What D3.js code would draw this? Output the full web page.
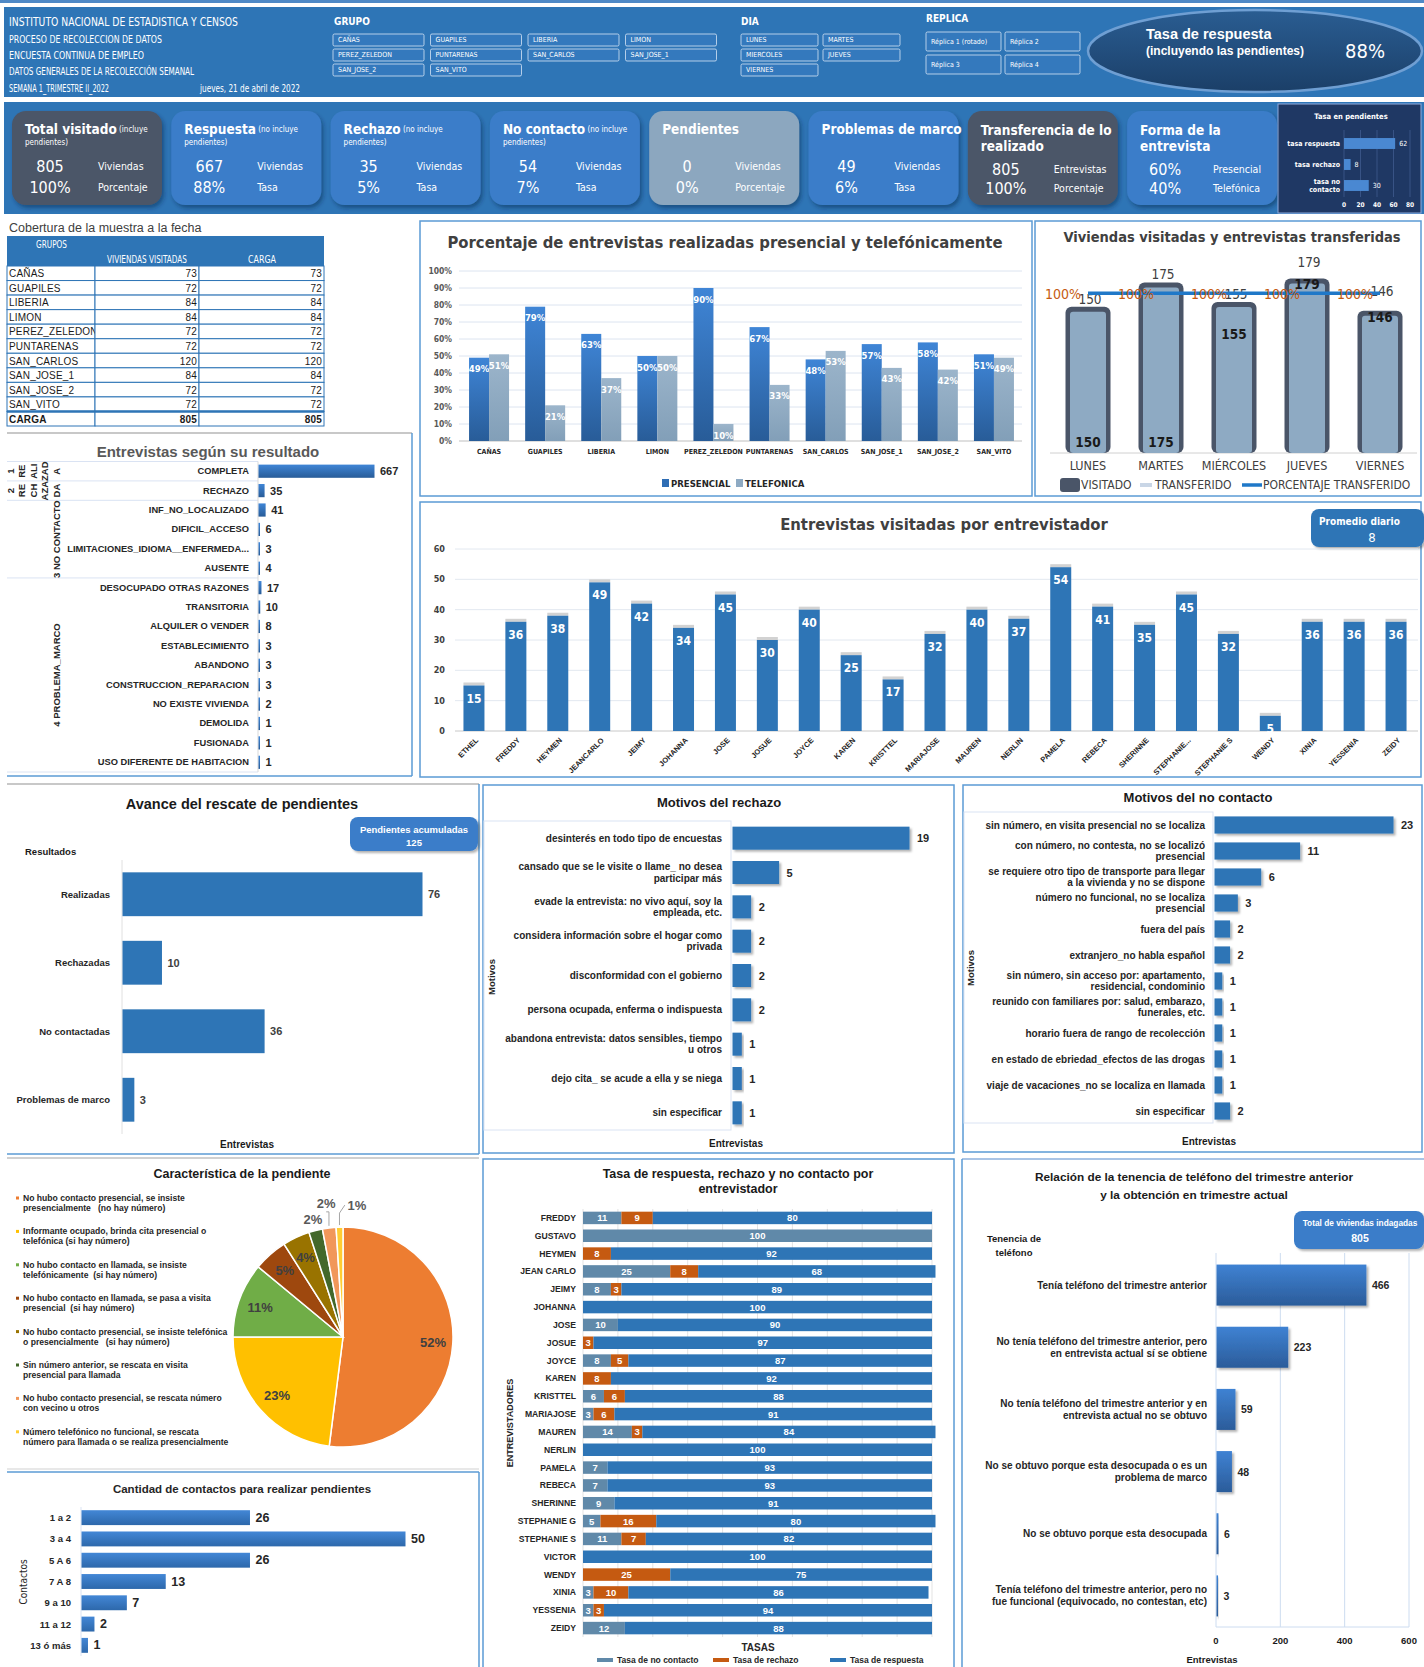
<!DOCTYPE html>
<html>
<head>
<meta charset="utf-8">
<script src="https://cdn.jsdelivr.net/npm/d3@7"></script>
<style>
body { margin: 0; background: #fff; }
svg { display: block; }
</style>
</head>
<body>
<svg id="dash" width="1424" height="1667"></svg>
<script>
// ---------------- datos ----------------
const encabezado = ["INSTITUTO NACIONAL DE ESTADISTICA Y CENSOS", "PROCESO DE RECOLECCION DE DATOS",
    "ENCUESTA CONTINUA DE EMPLEO", "DATOS GENERALES DE LA RECOLECCIÓN SEMANAL", "SEMANA 1_TRIMESTRE II_2022"];
const fechaReporte = "jueves, 21 de abril de 2022";

const grupos = ["CAÑAS", "GUAPILES", "LIBERIA", "LIMON", "PEREZ_ZELEDON", "PUNTARENAS", "SAN_CARLOS", "SAN_JOSE_1", "SAN_JOSE_2", "SAN_VITO"];
const gruposVisitadas = [73, 72, 84, 84, 72, 72, 120, 84, 72, 72];
const gruposCarga = [73, 72, 84, 84, 72, 72, 120, 84, 72, 72];
const gruposPresencial = [0.49, 0.79, 0.63, 0.50, 0.90, 0.67, 0.48, 0.57, 0.58, 0.51];
const gruposTelefonica = [0.51, 0.21, 0.37, 0.50, 0.10, 0.33, 0.53, 0.43, 0.42, 0.49];

const diasBotones = ["LUNES", "MARTES", "MIERCOLES", "JUEVES", "VIERNES"];
const replicas = ["Réplica 1 (rotado)", "Réplica 2", "Réplica 3", "Réplica 4"];

const tasaGeneral = "88%";

const kpiTitulo = ["Total visitado", "Respuesta", "Rechazo", "No contacto", "Pendientes", "Problemas de marco", "Transferencia de lo", "Forma de la"];
const kpiTitulo2 = ["", "", "", "", "", "", "realizado", "entrevista"];
const kpiNota = ["(incluye", "(no incluye", "(no incluye", "(no incluye", "", "", "", ""];
const kpiNota2 = ["pendientes)", "pendientes)", "pendientes)", "pendientes)", "", "", "", ""];
const kpiValorA = ["805", "667", "35", "54", "0", "49", "805", "60%"];
const kpiEtiquetaA = ["Viviendas", "Viviendas", "Viviendas", "Viviendas", "Viviendas", "Viviendas", "Entrevistas", "Presencial"];
const kpiValorB = ["100%", "88%", "5%", "7%", "0%", "6%", "100%", "40%"];
const kpiEtiquetaB = ["Porcentaje", "Tasa", "Tasa", "Tasa", "Porcentaje", "Tasa", "Porcentaje", "Telefónica"];

const tasaPendCategorias = ["tasa respuesta", "tasa rechazo", "tasa no\ncontacto"];
const tasaPendValores = [62, 8, 30];

const dias = ["LUNES", "MARTES", "MIÉRCOLES", "JUEVES", "VIERNES"];
const diasVisitado = [150, 175, 155, 179, 146];
const diasTransferido = [150, 175, 155, 179, 146];
const diasPorcentaje = [1, 1, 1, 1, 1];

const entrevistadores = ["ETHEL", "FREDDY", "HEYMEN", "JEANCARLO", "JEIMY", "JOHANNA", "JOSE", "JOSUE", "JOYCE", "KAREN", "KRISTTEL", "MARIAJOSE",
    "MAUREN", "NERLIN", "PAMELA", "REBECA", "SHERINNE", "STEPHANIE...", "STEPHANIE S", "WENDY", "XINIA", "YESSENIA", "ZEIDY"];
const entrevistasVisitadas = [15, 36, 38, 49, 42, 34, 45, 30, 40, 25, 17, 32, 40, 37, 54, 41, 35, 45, 32, 5, 36, 36, 36];
const promedioDiario = 8;

const resultadoCategorias = ["COMPLETA", "RECHAZO", "INF_NO_LOCALIZADO", "DIFICIL_ACCESO", "LIMITACIONES_IDIOMA__ENFERMEDA...", "AUSENTE",
    "DESOCUPADO OTRAS RAZONES", "TRANSITORIA", "ALQUILER O VENDER", "ESTABLECIMIENTO", "ABANDONO", "CONSTRUCCION_REPARACION",
    "NO EXISTE VIVIENDA", "DEMOLIDA", "FUSIONADA", "USO DIFERENTE DE HABITACION"];
const resultadoValores = [667, 35, 41, 6, 3, 4, 17, 10, 8, 3, 3, 3, 2, 1, 1, 1];
const resultadoGrupoInicio = [0, 1, 2, 6, 16];
const resultadoGrupoPartes = [["1", "RE", "ALI", "ZAD", "A"], ["2", "RE", "CH", "AZA", "DA"], ["3 NO CONTACTO"], ["4 PROBLEMA_MARCO"]];

const avanceCategorias = ["Realizadas", "Rechazadas", "No contactadas", "Problemas de marco"];
const avanceValores = [76, 10, 36, 3];
const pendientesAcumuladas = 125;

const rechazoMotivos = ["desinterés en todo tipo de encuestas", "cansado que se le visite o llame_ no desea\nparticipar más",
    "evade la entrevista: no vivo aquí, soy la\nempleada, etc.", "considera información sobre el hogar como\nprivada",
    "disconformidad con el gobierno", "persona ocupada, enferma o indispuesta",
    "abandona entrevista: datos sensibles, tiempo\nu otros", "dejo cita_ se acude a ella y se niega", "sin especificar"];
const rechazoValores = [19, 5, 2, 2, 2, 2, 1, 1, 1];

const noContactoMotivos = ["sin número, en visita presencial no se localiza", "con número, no contesta, no se localizó\npresencial",
    "se requiere otro tipo de transporte para llegar\na la vivienda y no se dispone", "número no funcional, no se localiza\npresencial",
    "fuera del país", "extranjero_no habla español", "sin número, sin acceso por: apartamento,\nresidencial, condominio",
    "reunido con familiares por: salud, embarazo,\nfunerales, etc.", "horario fuera de rango de recolección",
    "en estado de ebriedad_efectos de las drogas", "viaje de vacaciones_no se localiza en llamada", "sin especificar"];
const noContactoValores = [23, 11, 6, 3, 2, 2, 1, 1, 1, 1, 1, 2];

const pendienteCaracteristicas = ["No hubo contacto presencial, se insiste\npresencialmente   (no hay número)",
    "Informante ocupado, brinda cita presencial o\ntelefónica (si hay número)",
    "No hubo contacto en llamada, se insiste\ntelefónicamente  (si hay número)",
    "No hubo contacto en llamada, se pasa a visita\npresencial  (si hay número)",
    "No hubo contacto presencial, se insiste telefónica\no presencialmente   (si hay número)",
    "Sin número anterior, se rescata en visita\npresencial para llamada",
    "No hubo contacto presencial, se rescata número\ncon vecino u otros",
    "Número telefónico no funcional, se rescata\nnúmero para llamada o se realiza presencialmente"];
const pendientePorcentajes = [52, 23, 11, 5, 4, 2, 2, 1];

const contactosRangos = ["1 a 2", "3 a 4", "5 A 6", "7 A 8", "9 a 10", "11 a 12", "13 ó más"];
const contactosValores = [26, 50, 26, 13, 7, 2, 1];

const tasaNombres = ["FREDDY", "GUSTAVO", "HEYMEN", "JEAN CARLO", "JEIMY", "JOHANNA", "JOSE", "JOSUE", "JOYCE", "KAREN", "KRISTTEL", "MARIAJOSE",
    "MAUREN", "NERLIN", "PAMELA", "REBECA", "SHERINNE", "STEPHANIE G", "STEPHANIE S", "VICTOR", "WENDY", "XINIA", "YESSENIA", "ZEIDY"];
const tasaNoContacto = [11, 100, 0, 25, 8, 0, 10, 0, 8, 0, 6, 3, 14, 0, 7, 7, 9, 5, 11, 0, 0, 3, 3, 12];
const tasaRechazo = [9, 0, 8, 8, 3, 0, 0, 3, 5, 8, 6, 6, 3, 0, 0, 0, 0, 16, 7, 0, 25, 10, 3, 0];
const tasaRespuesta = [80, 0, 92, 68, 89, 100, 90, 97, 87, 92, 88, 91, 84, 100, 93, 93, 91, 80, 82, 100, 75, 86, 94, 88];
const tasaLeyenda = ["Tasa de no contacto", "Tasa de rechazo", "Tasa de respuesta"];

const telefonoCategorias = ["Tenía teléfono del trimestre anterior", "No tenía teléfono del trimestre anterior, pero\nen entrevista actual sí se obtiene",
    "No tenía teléfono del trimestre anterior y en\nentrevista actual no se obtuvo", "No se obtuvo porque esta desocupada o es un\nproblema de marco",
    "No se obtuvo porque esta desocupada", "Tenía teléfono del trimestre anterior, pero no\nfue funcional (equivocado, no contestan, etc)"];
const telefonoValores = [466, 223, 59, 48, 6, 3];
const telefonoTicks = [0, 200, 400, 600];
const totalIndagadas = 805;

// ---------------- estilos ----------------
const AZUL = "#2e75b6";
const NARROW = "'Liberation Sans Narrow','DejaVu Sans Condensed',sans-serif";
const SANS = "'Liberation Sans',Arial,sans-serif";
const BORDE = "#5b9bd5";

const svg = d3.select("#dash");
const defs = svg.append("defs");

function gradV(id, c1, c2) {
    let g = defs.append("linearGradient").attr("id", id)
        .attr("x1", 0).attr("y1", 0).attr("x2", 0).attr("y2", 1);
    g.append("stop").attr("offset", "0%").attr("stop-color", c1);
    g.append("stop").attr("offset", "100%").attr("stop-color", c2);
}
gradV("gPres", "#3f85d6", "#285c98");
gradV("gTel", "#9cb5cb", "#829fb8");
gradV("gRel", "#3f82d3", "#2b5c9a");
gradV("gCont", "#4387d6", "#2d68ab");
gradV("gElipse", "#2a5d92", "#1b3f68");

let fs = defs.append("filter").attr("id", "sombra").attr("x", "-10%").attr("y", "-30%").attr("width", "130%").attr("height", "170%");
fs.append("feDropShadow").attr("dx", 2).attr("dy", 2).attr("stdDeviation", 1.2)
    .attr("flood-color", "#000").attr("flood-opacity", 0.3);
let fc = defs.append("filter").attr("id", "sombraCard").attr("x", "-10%").attr("y", "-10%").attr("width", "125%").attr("height", "125%");
fc.append("feDropShadow").attr("dx", 2).attr("dy", 3).attr("stdDeviation", 2)
    .attr("flood-color", "#0b2545").attr("flood-opacity", 0.45);

function texto(g, x, y, s, size, o) {
    o = o || {};
    return g.append("text")
        .attr("x", x).attr("y", y)
        .attr("font-family", o.familia || SANS)
        .attr("font-size", size)
        .attr("font-weight", o.peso || "normal")
        .attr("fill", o.color || "#262626")
        .attr("text-anchor", o.ancla || "start")
        .attr("dominant-baseline", "central")
        .text(s);
}

function multilinea(g, x, y, s, size, lh, o) {
    o = o || {};
    let lineas = String(s).split("\n");
    let t = g.append("text")
        .attr("font-family", o.familia || SANS)
        .attr("font-size", size)
        .attr("font-weight", o.peso || "normal")
        .attr("fill", o.color || "#262626")
        .attr("text-anchor", o.ancla || "start");
    lineas.forEach(function (l, i) {
        t.append("tspan").attr("x", x)
            .attr("y", y + (i - (lineas.length - 1) / 2) * lh)
            .attr("dominant-baseline", "central")
            .text(l);
    });
    return t;
}

function rotado(g, x, y, s, size, o) {
    o = o || {};
    return g.append("text")
        .attr("transform", "translate(" + x + "," + y + ") rotate(-90)")
        .attr("font-family", o.familia || SANS)
        .attr("font-size", size)
        .attr("font-weight", o.peso || "bold")
        .attr("fill", o.color || "#262626")
        .attr("text-anchor", "middle")
        .attr("dominant-baseline", "central")
        .text(s);
}

function linea(g, x1, y1, x2, y2, color, w) {
    return g.append("line").attr("x1", x1).attr("y1", y1).attr("x2", x2).attr("y2", y2)
        .attr("stroke", color).attr("stroke-width", w || 1);
}

// horizontal bars, used by several panels
function barrasH(g, cats, vals, c) {
    let x = d3.scaleLinear().domain([0, c.max]).range([c.x0, c.x1]);
    let y = d3.scaleBand().domain(cats).range([c.y0, c.y1]).paddingInner(c.pad).paddingOuter(c.pad / 2);
    if (c.eje) linea(g, c.x0, c.y0, c.x0, c.y1, c.eje, 1);
    g.selectAll(null).data(cats).enter().append("rect")
        .attr("x", c.x0 + 0.5)
        .attr("y", d => y(d))
        .attr("width", (d, i) => Math.max(1.5, x(vals[i]) - c.x0))
        .attr("height", y.bandwidth())
        .attr("fill", c.fill)
        .attr("filter", c.filtro || null);
    cats.forEach(function (d, i) {
        let cy = y(d) + y.bandwidth() / 2;
        texto(g, Math.max(x(vals[i]), c.x0 + 1.5) + c.gap, cy, vals[i], c.valSize, {peso: "bold", color: c.valColor || "#262626"});
        multilinea(g, c.labelX, cy, d, c.labelSize, c.lh || c.labelSize * 1.2, {peso: "bold", ancla: "end", color: "#262626"});
    });
    return {x: x, y: y};
}

// ---------------- encabezado ----------------
svg.append("rect").attr("x", 0).attr("y", 0).attr("width", 1424).attr("height", 3).attr("fill", "#4f89c6");
svg.append("rect").attr("x", 4).attr("y", 7).attr("width", 1420).attr("height", 90).attr("fill", AZUL);

let encY = [22, 39, 55, 71, 88];
let encW = [229, 153, 135, 185, 100];
let encS = [12, 10.5, 10.5, 10.5, 10];
encabezado.forEach(function (s, i) {
    texto(svg, 9, encY[i], s, encS[i], {familia: NARROW, color: "#fff"})
        .attr("textLength", encW[i]).attr("lengthAdjust", "spacingAndGlyphs");
});
texto(svg, 200, 88, fechaReporte, 10, {familia: NARROW, color: "#fff"})
    .attr("textLength", 100).attr("lengthAdjust", "spacingAndGlyphs");

function boton(x, y, w, h, s) {
    svg.append("rect").attr("x", x).attr("y", y).attr("width", w).attr("height", h)
        .attr("fill", "#3479bd").attr("stroke", "#d6e5f5").attr("stroke-width", 0.8).attr("rx", 1.5);
    texto(svg, x + 5, y + h / 2, s, 7, {familia: NARROW, color: "#fff"});
}

texto(svg, 334, 21, "GRUPO", 10, {familia: NARROW, peso: "bold", color: "#fff"});
grupos.forEach(function (g, i) {
    boton(333 + (i % 4) * 97.5, 34 + Math.floor(i / 4) * 15, 91, 12, g);
});
texto(svg, 741, 21, "DIA", 10, {familia: NARROW, peso: "bold", color: "#fff"});
diasBotones.forEach(function (d, i) {
    boton(741 + (i % 2) * 82, 34 + Math.floor(i / 2) * 15, 77, 12, d);
});
texto(svg, 926, 18, "REPLICA", 10, {familia: NARROW, peso: "bold", color: "#fff"});
replicas.forEach(function (r, i) {
    boton(926 + (i % 2) * 79, 32 + Math.floor(i / 2) * 23, 75, 19, r);
});

svg.append("ellipse").attr("cx", 1255).attr("cy", 51).attr("rx", 167).attr("ry", 41)
    .attr("fill", "url(#gElipse)").attr("stroke", "#6f9fd3").attr("stroke-width", 2.5);
texto(svg, 1146, 34, "Tasa de respuesta", 14.5, {peso: "bold", color: "#fff"});
texto(svg, 1146, 51, "(incluyendo las pendientes)", 12, {peso: "bold", color: "#fff"});
texto(svg, 1345, 51, tasaGeneral, 20, {familia: NARROW, color: "#fff"});

// ---------------- tarjetas KPI ----------------
svg.append("rect").attr("x", 4).attr("y", 102).attr("width", 1420).attr("height", 112).attr("fill", AZUL);

let kpiColor = ["#4b5668", "#3b7dc9", "#3b7dc9", "#3b7dc9", "#8ca7bf", "#3b7dc9", "#4b5668", "#3b7dc9"];
kpiTitulo.forEach(function (t, i) {
    let x0 = 12 + i * 159.3;
    svg.append("rect").attr("x", x0).attr("y", 111).attr("width", 150).attr("height", 94).attr("rx", 14)
        .attr("fill", kpiColor[i]).attr("filter", "url(#sombraCard)");
    let yA = 166, yB = 187;
    if (kpiTitulo2[i]) {
        texto(svg, x0 + 13, 130, t, 13.5, {familia: NARROW, peso: "bold", color: "#fff"});
        texto(svg, x0 + 13, 146, kpiTitulo2[i], 13.5, {familia: NARROW, peso: "bold", color: "#fff"});
        yA = 169; yB = 188;
    } else {
        let tt = texto(svg, x0 + 13, 129, t, 13.5, {familia: NARROW, peso: "bold", color: "#fff"});
        if (kpiNota[i]) {
            tt.append("tspan").attr("font-size", 8).attr("font-weight", "normal").text(" " + kpiNota[i]);
            texto(svg, x0 + 13, 142, kpiNota2[i], 8, {familia: NARROW, color: "#fff"});
        }
    }
    texto(svg, x0 + 38, yA, kpiValorA[i], 16, {familia: NARROW, color: "#fff", ancla: "middle"});
    texto(svg, x0 + 86, yA, kpiEtiquetaA[i], 10.5, {familia: NARROW, color: "#fff"});
    texto(svg, x0 + 38, yB, kpiValorB[i], 16, {familia: NARROW, color: "#fff", ancla: "middle"});
    texto(svg, x0 + 86, yB, kpiEtiquetaB[i], 10.5, {familia: NARROW, color: "#fff"});
});

// mini grafico tasa en pendientes
let gMini = svg.append("g");
gMini.append("rect").attr("x", 1278).attr("y", 104).attr("width", 143).attr("height", 109)
    .attr("fill", "#1f3864").attr("stroke", "#8faadc").attr("stroke-width", 1);
texto(gMini, 1351, 116, "Tasa en pendientes", 7.5, {familia: NARROW, peso: "bold", color: "#fff", ancla: "middle"});
let mX = d3.scaleLinear().domain([0, 80]).range([1344, 1410]);
let mY = d3.scaleBand().domain(tasaPendCategorias).range([133, 196]).paddingInner(0.48).paddingOuter(0.24);
mX.ticks(4).forEach(function (t) {
    linea(gMini, mX(t), 130, mX(t), 197, "#3f5b8e", 0.8);
    texto(gMini, mX(t), 205, t, 6.5, {familia: NARROW, peso: "bold", color: "#fff", ancla: "middle"});
});
tasaPendCategorias.forEach(function (c, i) {
    let cy = mY(c) + mY.bandwidth() / 2;
    gMini.append("rect").attr("x", mX(0)).attr("y", mY(c)).attr("width", mX(tasaPendValores[i]) - mX(0))
        .attr("height", mY.bandwidth()).attr("fill", "#4a88d2");
    texto(gMini, mX(tasaPendValores[i]) + 4, cy, tasaPendValores[i], 7, {familia: NARROW, color: "#fff"});
    multilinea(gMini, 1340, cy, c, 7, 8, {familia: NARROW, peso: "bold", color: "#fff", ancla: "end"});
});

// ---------------- cobertura de la muestra ----------------
let gTab = svg.append("g");
texto(gTab, 9, 228, "Cobertura de la muestra a la fecha", 12.5, {color: "#404040"});
gTab.append("rect").attr("x", 7).attr("y", 236).attr("width", 317).attr("height", 30).attr("fill", AZUL);
texto(gTab, 36, 244, "GRUPOS", 10, {familia: NARROW, color: "#fff"}).attr("textLength", 31).attr("lengthAdjust", "spacingAndGlyphs");
texto(gTab, 107, 259, "VIVIENDAS VISITADAS", 10, {familia: NARROW, color: "#fff"}).attr("textLength", 80).attr("lengthAdjust", "spacingAndGlyphs");
texto(gTab, 248, 259, "CARGA", 10, {familia: NARROW, color: "#fff"}).attr("textLength", 28).attr("lengthAdjust", "spacingAndGlyphs");

let filas = grupos.map((g, i) => [g, gruposVisitadas[i], gruposCarga[i]]);
filas.push(["CARGA", d3.sum(gruposVisitadas), d3.sum(gruposCarga)]);
let colX = [7, 95, 199, 324];
let filaY = d3.scaleBand().domain(d3.range(filas.length)).range([266, 426]);
filas.forEach(function (f, r) {
    let y = filaY(r), h = filaY.bandwidth();
    let ultima = r === filas.length - 1;
    f.forEach(function (v, c) {
        gTab.append("rect").attr("x", colX[c]).attr("y", y).attr("width", colX[c + 1] - colX[c]).attr("height", h)
            .attr("fill", "#fff").attr("stroke", AZUL).attr("stroke-width", 1);
        let o = {peso: ultima ? "bold" : "normal", color: "#1a1a1a", ancla: c === 0 ? "start" : "end"};
        texto(gTab, c === 0 ? colX[0] + 2 : colX[c + 1] - 2, y + h / 2 + 0.5, v, 10, o).attr("letter-spacing", 0.2);
    });
});
linea(gTab, 7, filaY(filas.length - 1), 324, filaY(filas.length - 1), AZUL, 2.5);

// ---------------- entrevistas segun su resultado ----------------
let gRes = svg.append("g");
linea(gRes, 7, 433, 412, 433, "#c8c8c8", 2);
linea(gRes, 412, 433, 412, 776, BORDE, 1.5);
linea(gRes, 7, 776, 412, 776, BORDE, 1.5);
texto(gRes, 208, 451, "Entrevistas según su resultado", 15, {peso: "bold", color: "#595959", ancla: "middle"});
let resY0 = 461.5, resY1 = 772;
let resPaso = (resY1 - resY0) / resultadoCategorias.length;
resultadoGrupoInicio.forEach(function (k) {
    linea(gRes, 7, resY0 + k * resPaso, 258, resY0 + k * resPaso, "#dae3f3", 1);
});
resultadoGrupoPartes.forEach(function (partes, gi) {
    let a = resultadoGrupoInicio[gi], b = resultadoGrupoInicio[gi + 1];
    let cy = resY0 + resPaso * (a + b) / 2;
    if (partes.length === 1) {
        rotado(gRes, 56, cy, partes[0], 9.5);
    } else {
        partes.forEach(function (p, j) {
            rotado(gRes, 10 + j * 11.5, cy, p, 9.5);
        });
    }
});
barrasH(gRes, resultadoCategorias, resultadoValores, {
    max: 667, x0: 258, x1: 374, y0: resY0, y1: resY1, pad: 0.32,
    labelX: 249, labelSize: 9.3, valSize: 11, gap: 6, fill: "url(#gPres)", eje: "#d9d9d9"
});

// ---------------- porcentaje presencial / telefonica ----------------
let gPor = svg.append("g");
gPor.append("rect").attr("x", 420).attr("y", 221).attr("width", 612).attr("height", 275)
    .attr("fill", "#fff").attr("stroke", BORDE).attr("stroke-width", 1.5);
texto(gPor, 725, 242, "Porcentaje de entrevistas realizadas presencial y telefónicamente", 16.5,
    {familia: NARROW, peso: "bold", color: "#404040", ancla: "middle"});
let pX = d3.scaleBand().domain(grupos).range([461, 1022]);
let pY = d3.scaleLinear().domain([0, 1]).range([441, 271]);
pY.ticks(10).forEach(function (t) {
    linea(gPor, 459, pY(t), 1022, pY(t), t === 0 ? "#bfbfbf" : "#dce4f0", 1);
    texto(gPor, 452, pY(t), d3.format(".0%")(t), 8.5, {familia: NARROW, peso: "bold", color: "#595959", ancla: "end"});
});
grupos.forEach(function (g, i) {
    let c = pX(g) + pX.bandwidth() / 2;
    let vals = [gruposPresencial[i], gruposTelefonica[i]];
    vals.forEach(function (v, j) {
        let x = c - 20 + j * 20;
        gPor.append("rect").attr("x", x).attr("y", pY(v)).attr("width", 20).attr("height", pY(0) - pY(v))
            .attr("fill", j === 0 ? "url(#gPres)" : "url(#gTel)");
        texto(gPor, x + 10, pY(v) + 11, d3.format(".0%")(v), 9.5, {familia: NARROW, peso: "bold", color: "#fff", ancla: "middle"});
    });
    texto(gPor, c, 452, g, 7, {familia: NARROW, peso: "bold", color: "#262626", ancla: "middle"});
});
gPor.append("rect").attr("x", 662).attr("y", 479).attr("width", 7).attr("height", 8).attr("fill", "#2e6db4");
texto(gPor, 671, 483, "PRESENCIAL", 9.5, {familia: NARROW, peso: "bold", color: "#262626"});
gPor.append("rect").attr("x", 736).attr("y", 479).attr("width", 7).attr("height", 8).attr("fill", "#8eaac3");
texto(gPor, 745, 483, "TELEFONICA", 9.5, {familia: NARROW, peso: "bold", color: "#262626"});

// ---------------- viviendas visitadas y transferidas ----------------
let gViv = svg.append("g");
gViv.append("rect").attr("x", 1035).attr("y", 221).attr("width", 386).attr("height", 275)
    .attr("fill", "#fff").attr("stroke", BORDE).attr("stroke-width", 1.5);
texto(gViv, 1232, 237, "Viviendas visitadas y entrevistas transferidas", 14.5,
    {familia: NARROW, peso: "bold", color: "#404040", ancla: "middle"});
let vX = d3.scaleBand().domain(dias).range([1051.5, 1416.5]);
let vY = d3.scaleLinear().domain([0, 200]).range([453, 258]);
let vY2 = d3.scaleLinear().domain([0, 1.22]).range([453, 258]);
linea(gViv, 1050, 453, 1417, 453, "#d0d0d0", 1);
let transPos = ["base", "base", "mid", "top", "top"];
let visLabelDy = [8, 8, 8, 16, 20];
dias.forEach(function (d, i) {
    let c = vX(d) + vX.bandwidth() / 2;
    gViv.append("rect").attr("x", c - 22.5).attr("y", vY(diasVisitado[i])).attr("width", 45)
        .attr("height", vY(0) - vY(diasVisitado[i])).attr("rx", 6).attr("fill", "#4a5568");
    gViv.append("rect").attr("x", c - 18).attr("y", vY(diasTransferido[i]) + 5).attr("width", 36)
        .attr("height", vY(0) - vY(diasTransferido[i]) - 5).attr("rx", 3).attr("fill", "#8eaac3");
    texto(gViv, c + 2, vY(diasVisitado[i]) - visLabelDy[i], diasVisitado[i], 13.5, {familia: NARROW, color: "#404040", ancla: "middle"});
    let ty = transPos[i] === "base" ? vY(0) - 11 : (transPos[i] === "mid" ? vY(diasTransferido[i]) + 32 : vY(diasTransferido[i]) + 6);
    texto(gViv, c, ty, diasTransferido[i], 13.5, {familia: NARROW, peso: "bold", color: "#1a1a1a", ancla: "middle"});
    texto(gViv, c, 465, d, 12.5, {familia: NARROW, color: "#404040", ancla: "middle"});
});
let lineaPct = d3.line().x((d, i) => vX(dias[i]) + vX.bandwidth() / 2).y(d => vY2(d));
gViv.append("path").datum(diasPorcentaje).attr("d", lineaPct).attr("fill", "none")
    .attr("stroke", "#1f78c8").attr("stroke-width", 3.5);
diasPorcentaje.forEach(function (p, i) {
    let c = vX(dias[i]) + vX.bandwidth() / 2;
    texto(gViv, c - 7, vY2(p) + 1, d3.format(".0%")(p), 14, {familia: NARROW, color: "#c55a11", ancla: "end"});
});
gViv.append("rect").attr("x", 1060).attr("y", 478).attr("width", 20).attr("height", 14).attr("rx", 3).attr("fill", "#4a5568");
texto(gViv, 1081, 485, "VISITADO", 12, {familia: NARROW, color: "#404040"});
linea(gViv, 1140, 485, 1152, 485, "#c9d6e6", 4);
texto(gViv, 1155, 485, "TRANSFERIDO", 12, {familia: NARROW, color: "#404040"});
linea(gViv, 1242, 485, 1262, 485, "#1f78c8", 3.5);
texto(gViv, 1263, 485, "PORCENTAJE TRANSFERIDO", 12, {familia: NARROW, color: "#404040"});

// ---------------- entrevistas visitadas por entrevistador ----------------
let gEnt = svg.append("g");
gEnt.append("rect").attr("x", 420).attr("y", 502).attr("width", 1001).attr("height", 275)
    .attr("fill", "#fff").attr("stroke", BORDE).attr("stroke-width", 1.5);
texto(gEnt, 944, 524, "Entrevistas visitadas por entrevistador", 16.5,
    {familia: NARROW, peso: "bold", color: "#404040", ancla: "middle"});
gEnt.append("rect").attr("x", 1311).attr("y", 509).attr("width", 113).attr("height", 38).attr("rx", 8)
    .attr("fill", AZUL).attr("filter", "url(#sombra)");
texto(gEnt, 1319, 521, "Promedio diario", 10, {familia: NARROW, peso: "bold", color: "#fff"});
texto(gEnt, 1372, 537, promedioDiario, 13, {familia: NARROW, color: "#fff", ancla: "middle"});
let eX = d3.scaleBand().domain(entrevistadores).range([453, 1417]);
let eY = d3.scaleLinear().domain([0, 60]).range([731, 549]);
eY.ticks(6).forEach(function (t) {
    linea(gEnt, 455, eY(t), 1418, eY(t), t === 0 ? "#c8c8c8" : "#e2e8f0", 1);
    texto(gEnt, 445, eY(t), t, 9, {familia: NARROW, peso: "bold", color: "#404040", ancla: "end"});
});
entrevistadores.forEach(function (n, i) {
    let c = eX(n) + eX.bandwidth() / 2;
    let v = entrevistasVisitadas[i];
    gEnt.append("rect").attr("x", c - 10.5).attr("y", eY(v) - 3).attr("width", 21).attr("height", 3).attr("fill", "#d2d2d2");
    gEnt.append("rect").attr("x", c - 10.5).attr("y", eY(v)).attr("width", 21).attr("height", eY(0) - eY(v)).attr("fill", AZUL);
    texto(gEnt, c, eY(v) + 13, v, 12, {familia: NARROW, peso: "bold", color: "#fff", ancla: "middle"});
    gEnt.append("text").attr("transform", "translate(" + (c + 3) + ",739) rotate(-45)")
        .attr("font-family", SANS).attr("font-size", 7.5).attr("font-weight", "bold").attr("fill", "#262626")
        .attr("text-anchor", "end").attr("dominant-baseline", "central").text(n);
});

// ---------------- avance del rescate ----------------
let gAv = svg.append("g");
linea(gAv, 7, 784, 479, 784, "#c8c8c8", 2);
linea(gAv, 479, 784, 479, 1154, BORDE, 1.5);
linea(gAv, 7, 1154, 479, 1154, BORDE, 1.5);
texto(gAv, 242, 804, "Avance del rescate de pendientes", 14.5, {peso: "bold", color: "#1a1a1a", ancla: "middle"});
gAv.append("rect").attr("x", 350).attr("y", 817).attr("width", 128).attr("height", 34).attr("rx", 8)
    .attr("fill", "#3a7dc9").attr("filter", "url(#sombra)");
texto(gAv, 414, 829, "Pendientes acumuladas", 9.5, {peso: "bold", color: "#fff", ancla: "middle"});
texto(gAv, 414, 842, pendientesAcumuladas, 9.5, {peso: "bold", color: "#fff", ancla: "middle"});
texto(gAv, 25, 851, "Resultados", 9.5, {peso: "bold", color: "#1a1a1a"});
barrasH(gAv, avanceCategorias, avanceValores, {
    max: 76, x0: 122, x1: 422, y0: 860, y1: 1134, pad: 0.36,
    labelX: 110, labelSize: 9.5, valSize: 11, gap: 6, fill: AZUL, eje: "#e0e0e0", valColor: "#404040"
});
texto(gAv, 247, 1144, "Entrevistas", 10, {peso: "bold", color: "#1a1a1a", ancla: "middle"});

// ---------------- motivos del rechazo ----------------
let gRe = svg.append("g");
gRe.append("rect").attr("x", 483).attr("y", 785).attr("width", 471).attr("height", 368)
    .attr("fill", "#fff").attr("stroke", BORDE).attr("stroke-width", 1.5);
texto(gRe, 719, 802, "Motivos del rechazo", 13, {peso: "bold", color: "#1a1a1a", ancla: "middle"});
gRe.append("rect").attr("x", 484).attr("y", 821).attr("width", 247).attr("height", 309)
    .attr("fill", "none").attr("stroke", "#dae3f3");
barrasH(gRe, rechazoMotivos, rechazoValores, {
    max: 19, x0: 732, x1: 909, y0: 821, y1: 1130, pad: 0.33,
    labelX: 722, labelSize: 10, lh: 11.5, valSize: 11, gap: 8, fill: AZUL, filtro: "url(#sombra)"
});
rotado(gRe, 491, 977, "Motivos", 9.5);
texto(gRe, 736, 1143, "Entrevistas", 10, {peso: "bold", color: "#1a1a1a", ancla: "middle"});

// ---------------- motivos del no contacto ----------------
let gNc = svg.append("g");
gNc.append("rect").attr("x", 963).attr("y", 785).attr("width", 459).attr("height", 367)
    .attr("fill", "#fff").attr("stroke", BORDE).attr("stroke-width", 1.5);
texto(gNc, 1198, 797, "Motivos del no contacto", 13, {peso: "bold", color: "#1a1a1a", ancla: "middle"});
gNc.append("rect").attr("x", 964).attr("y", 812).attr("width", 249).attr("height", 311)
    .attr("fill", "none").attr("stroke", "#dae3f3");
barrasH(gNc, noContactoMotivos, noContactoValores, {
    max: 23, x0: 1214, x1: 1393, y0: 812, y1: 1124, pad: 0.34,
    labelX: 1205, labelSize: 10, lh: 11.5, valSize: 11, gap: 8, fill: AZUL, filtro: "url(#sombra)"
});
rotado(gNc, 970, 968, "Motivos", 9.5);
texto(gNc, 1209, 1141, "Entrevistas", 10, {peso: "bold", color: "#1a1a1a", ancla: "middle"});

// ---------------- caracteristica de la pendiente ----------------
let gPie = svg.append("g");
linea(gPie, 7, 1158, 479, 1158, "#d0d0d0", 2);
texto(gPie, 242, 1174, "Característica de la pendiente", 12.5, {peso: "bold", color: "#1a1a1a", ancla: "middle"});
let pieColores = ["#ed7d31", "#ffc000", "#70ad47", "#9e480e", "#997300", "#43682b", "#f1975a", "#ffcd33"];
pendienteCaracteristicas.forEach(function (s, i) {
    let cy = 1203 + i * 33.4;
    gPie.append("rect").attr("x", 16).attr("y", cy - 6.5).attr("width", 3).attr("height", 3).attr("fill", pieColores[i]);
    multilinea(gPie, 23, cy, s, 8.6, 10, {peso: "bold", color: "#262626"}).attr("xml:space", "preserve");
});
let pieCx = 343, pieCy = 1337, pieR = 110;
let arcos = d3.pie().sort(null).value(d => d)(pendientePorcentajes);
let arco = d3.arc().innerRadius(0).outerRadius(pieR);
gPie.selectAll(null).data(arcos).enter().append("path")
    .attr("transform", "translate(" + pieCx + "," + pieCy + ")")
    .attr("d", arco)
    .attr("fill", (d, i) => pieColores[i])
    .attr("stroke", "#fff").attr("stroke-width", 1.5);
let pieLabelR = [0.82, 0.8, 0.8, 0.8, 0.8, 1.1, 1.22, 1.2];
let pieLabelDx = [0, 0, 0, 0, 0, 0, 0, 18];
arcos.forEach(function (a, i) {
    let m = (a.startAngle + a.endAngle) / 2;
    let r = pieR * pieLabelR[i];
    let x = pieCx + r * Math.sin(m) + pieLabelDx[i];
    let y = pieCy - r * Math.cos(m);
    let fuera = pieLabelR[i] > 1;
    if (i >= 6) {
        let ex = pieCx + (pieR + 2) * Math.sin(m), ey = pieCy - (pieR + 2) * Math.cos(m);
        gPie.append("polyline").attr("points", [[ex, ey], [ex, y + 8], [x - (i === 7 ? 12 : 0), y + (i === 7 ? 0 : 8)]].join(" "))
            .attr("fill", "none").attr("stroke", "#a6a6a6").attr("stroke-width", 1);
    }
    texto(gPie, x, y, a.data + "%", 13, {peso: "bold", color: fuera ? "#595959" : "#404040", ancla: "middle"});
});

// ---------------- cantidad de contactos ----------------
let gCo = svg.append("g");
linea(gCo, 7, 1469, 479, 1469, "#e0e0e0", 1.5);
linea(gCo, 7, 1472, 479, 1472, BORDE, 1.5);
linea(gCo, 479, 1472, 479, 1667, BORDE, 1.5);
texto(gCo, 242, 1489, "Cantidad de contactos para realizar pendientes", 11.5, {peso: "bold", color: "#262626", ancla: "middle"});
barrasH(gCo, contactosRangos, contactosValores, {
    max: 50, x0: 81, x1: 405, y0: 1507, y1: 1656, pad: 0.3,
    labelX: 71, labelSize: 9.5, valSize: 12.5, gap: 6, fill: "url(#gCont)", eje: "#dae3f3"
});
rotado(gCo, 23, 1582, "Contactos", 10, {familia: NARROW, peso: "normal"});

// ---------------- tasa de respuesta por entrevistador ----------------
let gTa = svg.append("g");
gTa.append("rect").attr("x", 483).attr("y", 1159).attr("width", 471).attr("height", 530)
    .attr("fill", "#fff").attr("stroke", BORDE).attr("stroke-width", 1.5);
texto(gTa, 738, 1174, "Tasa de respuesta, rechazo y no contacto por", 12.5, {peso: "bold", color: "#1a1a1a", ancla: "middle"});
texto(gTa, 738, 1189, "entrevistador", 12.5, {peso: "bold", color: "#1a1a1a", ancla: "middle"});
let tX = d3.scaleLinear().domain([0, 100]).range([583, 932]);
let tY = d3.scaleBand().domain(tasaNombres).range([1209, 1637]).paddingInner(0.3).paddingOuter(0.15);
tX.ticks(10).forEach(function (t) {
    linea(gTa, tX(t), 1209, tX(t), 1637, "#e3e3e3", 1);
});
let tasaTabla = tasaNombres.map((n, i) => ({nombre: n, nocontacto: tasaNoContacto[i], rechazo: tasaRechazo[i], respuesta: tasaRespuesta[i]}));
let claves = ["nocontacto", "rechazo", "respuesta"];
let tColor = d3.scaleOrdinal().domain(claves).range(["#6089a9", "#c55a11", AZUL]);
let series = d3.stack().keys(claves)(tasaTabla);
series.forEach(function (s) {
    gTa.selectAll(null).data(s).enter().append("rect")
        .attr("x", d => tX(d[0]))
        .attr("y", d => tY(d.data.nombre))
        .attr("width", d => tX(d[1]) - tX(d[0]))
        .attr("height", tY.bandwidth())
        .attr("fill", tColor(s.key));
    s.forEach(function (d) {
        let v = d[1] - d[0];
        let cy = tY(d.data.nombre) + tY.bandwidth() / 2;
        if (v > 0) {
            texto(gTa, (tX(d[0]) + tX(d[1])) / 2, cy, v, 9.5, {peso: "bold", color: "#fff", ancla: "middle"});
        } else if (s.key !== "respuesta") {
            texto(gTa, tX(d[0]) + 3, cy, "-", 9, {peso: "bold", color: "#fff", ancla: "middle"});
        }
    });
});
tasaNombres.forEach(function (n) {
    texto(gTa, 576, tY(n) + tY.bandwidth() / 2, n, 8.6, {peso: "bold", color: "#262626", ancla: "end"});
});
rotado(gTa, 510, 1423, "ENTREVISTADORES", 9);
texto(gTa, 758, 1647, "TASAS", 10, {peso: "bold", color: "#262626", ancla: "middle"});
let legX = [597, 713, 830];
tasaLeyenda.forEach(function (s, i) {
    gTa.append("rect").attr("x", legX[i]).attr("y", 1658).attr("width", 16).attr("height", 4).attr("fill", tColor(claves[i]));
    texto(gTa, legX[i] + 20, 1660, s, 8.5, {peso: "bold", color: "#262626"});
});

// ---------------- tenencia de telefono ----------------
let gTe = svg.append("g");
linea(gTe, 962, 1159, 1424, 1159, "#a9c4e6", 2);
linea(gTe, 962, 1159, 962, 1667, BORDE, 1.5);
texto(gTe, 1194, 1177, "Relación de la tenencia de teléfono del trimestre anterior", 11.8, {peso: "bold", color: "#1a1a1a", ancla: "middle"});
texto(gTe, 1194, 1195, "y la obtención en trimestre actual", 11.8, {peso: "bold", color: "#1a1a1a", ancla: "middle"});
gTe.append("rect").attr("x", 1294).attr("y", 1211).attr("width", 130).attr("height", 38).attr("rx", 8)
    .attr("fill", "#3a7dc9").attr("filter", "url(#sombra)");
texto(gTe, 1360, 1223, "Total de viviendas indagadas", 8.3, {peso: "bold", color: "#fff", ancla: "middle"});
texto(gTe, 1360, 1238, totalIndagadas, 10.5, {peso: "bold", color: "#fff", ancla: "middle"});
texto(gTe, 1014, 1238, "Tenencia de", 9.5, {peso: "bold", color: "#1a1a1a", ancla: "middle"});
texto(gTe, 1014, 1252, "teléfono", 9.5, {peso: "bold", color: "#1a1a1a", ancla: "middle"});
let teX = d3.scaleLinear().domain([0, 600]).range([1216, 1409]);
telefonoTicks.forEach(function (t) {
    linea(gTe, teX(t), 1253, teX(t), 1627, "#cddcf0", 1);
    texto(gTe, teX(t), 1640, t, 9.5, {peso: "bold", color: "#1a1a1a", ancla: "middle"});
});
linea(gTe, 1216, 1627, 1409, 1627, "#cddcf0", 1);
barrasH(gTe, telefonoCategorias, telefonoValores, {
    max: 600, x0: 1216, x1: 1409, y0: 1254, y1: 1627, pad: 0.34,
    labelX: 1207, labelSize: 10, lh: 12, valSize: 10.5, gap: 6, fill: "url(#gRel)", filtro: "url(#sombra)"
});
texto(gTe, 1212, 1659, "Entrevistas", 9.5, {peso: "bold", color: "#1a1a1a", ancla: "middle"});
</script>
</body>
</html>
